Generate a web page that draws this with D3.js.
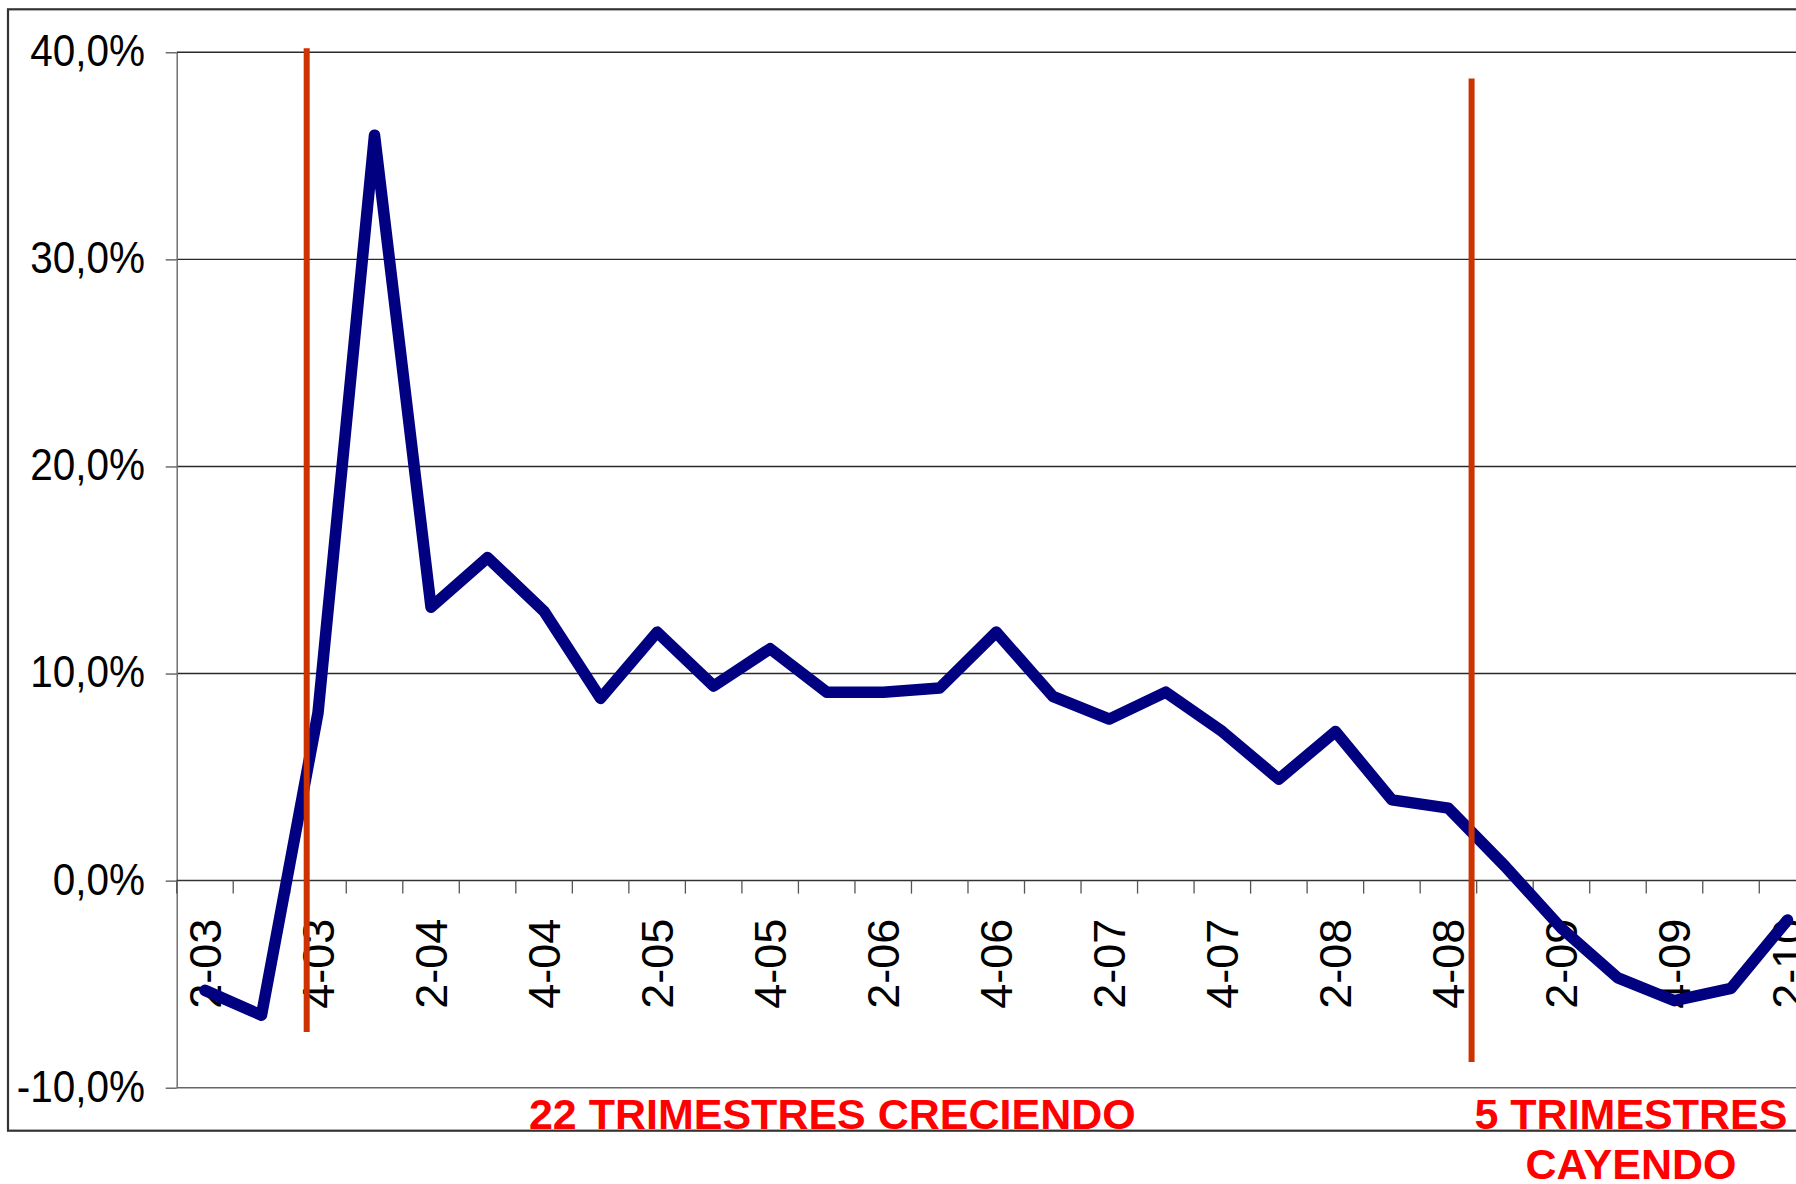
<!DOCTYPE html>
<html>
<head>
<meta charset="utf-8">
<script src="https://cdnjs.cloudflare.com/ajax/libs/d3/7.8.5/d3.min.js"></script>
<style>
  html, body { margin: 0; padding: 0; background: #ffffff; }
  svg { display: block; font-family: "Liberation Sans", Arial, Helvetica, sans-serif; }
</style>
</head>
<body>
<script>
// ---- DATA ----
const categories = [
  "2-03","3-03","4-03",
  "1-04","2-04","3-04","4-04",
  "1-05","2-05","3-05","4-05",
  "1-06","2-06","3-06","4-06",
  "1-07","2-07","3-07","4-07",
  "1-08","2-08","3-08","4-08",
  "1-09","2-09","3-09","4-09",
  "1-10","2-10"
];
const growth = [
  -5.3, -6.5, 8.1,
  36.0, 13.2, 15.6, 13.0,
  8.8, 12.0, 9.4, 11.2,
  9.1, 9.1, 9.3, 12.0,
  8.9, 7.8, 9.1, 7.2,
  4.9, 7.2, 3.9, 3.5,
  0.7, -2.3, -4.7, -5.8,
  -5.2, -1.9
];
const tickLabels = ["2-03","4-03","2-04","4-04","2-05","4-05","2-06","4-06","2-07","4-07","2-08","4-08","2-09","4-09","2-10"];
const yTicks = [-10, 0, 10, 20, 30, 40];
const gridValues = [10, 20, 30, 40];
// annotation lines: position in category units, vertical extent in value units
const markerPos = [2.30, 22.91];
const markerTop = [40.19, 38.74];
const markerBottom = [-7.31, -8.76];
const notes = ["22 TRIMESTRES CRECIENDO", "5 TRIMESTRES", "CAYENDO"];

// ---- CHART ----
const W = 1796, H = 1184;
const plotLeft = 176.7, plotRight = 1815.8, plotTop = 52.3, plotBottom = 1087.7;

const svg = d3.select("body").append("svg").attr("width", W).attr("height", H);

const x = d3.scaleBand().domain(categories).range([plotLeft, plotRight]).padding(0);
const y = d3.scaleLinear().domain([-10, 40]).range([plotBottom, plotTop]);
const xc = c => x(c) + x.bandwidth() / 2;
const xi = v => plotLeft + v * x.bandwidth();

// outer chart border (right side is cropped off the picture)
svg.append("rect")
  .attr("x", 8).attr("y", 9.3)
  .attr("width", 1830).attr("height", 1121.4)
  .attr("fill", "none").attr("stroke", "#333").attr("stroke-width", 2.2);

// gridlines
svg.append("g").selectAll("line").data(gridValues).join("line")
  .attr("x1", plotLeft).attr("x2", plotRight + 40)
  .attr("y1", d => y(d)).attr("y2", d => y(d))
  .attr("stroke", "#2a2a2a").attr("stroke-width", 1.4);

// bottom line of plot (-10)
svg.append("line")
  .attr("x1", plotLeft).attr("x2", plotRight + 40)
  .attr("y1", y(-10)).attr("y2", y(-10))
  .attr("stroke", "#666").attr("stroke-width", 1.5);

// y axis
const yAxis = svg.append("g")
  .attr("transform", `translate(${plotLeft},0)`)
  .call(d3.axisLeft(y).tickValues(yTicks).tickSize(11).tickSizeOuter(0)
    .tickFormat(d => d.toFixed(1).replace(".", ",") + "%"));
yAxis.select(".domain").attr("stroke", "#707070").attr("stroke-width", 1.5);
yAxis.selectAll(".tick line").attr("stroke", "#555").attr("stroke-width", 1.3);
yAxis.selectAll(".tick text")
  .attr("x", null).attr("dy", null)
  .attr("transform", "translate(-31.7,13.4) scale(0.9,1)")
  .attr("text-anchor", "end")
  .attr("fill", "#000")
  .style("font-size", "45px")
  .style("font-family", "'Liberation Sans', Arial, sans-serif");

// x axis (zero line) with category labels
const xAxis = svg.append("g")
  .attr("transform", `translate(0,${y(0)})`)
  .call(d3.axisBottom(x).tickSize(0).tickSizeOuter(0)
    .tickFormat(d => tickLabels.includes(d) ? d : ""));
xAxis.select(".domain").attr("stroke", "#333").attr("stroke-width", 1.5)
  .attr("d", `M${plotLeft},0H${plotRight + 40}`);
xAxis.selectAll(".tick text")
  .attr("x", null).attr("y", null).attr("dy", null)
  .attr("transform", "translate(16,38) rotate(-90)")
  .attr("text-anchor", "end")
  .attr("fill", "#000")
  .style("font-size", "45px")
  .style("font-family", "'Liberation Sans', Arial, sans-serif");

// category boundary ticks
svg.append("g").selectAll("line").data(d3.range(categories.length + 1)).join("line")
  .attr("x1", d => xi(d)).attr("x2", d => xi(d))
  .attr("y1", y(0)).attr("y2", y(0) + 13)
  .attr("stroke", "#555").attr("stroke-width", 1.3);

// series line
const line = d3.line()
  .x((d, i) => xc(categories[i]))
  .y(d => y(d));
svg.append("path")
  .datum(growth)
  .attr("d", line)
  .attr("fill", "none")
  .attr("stroke", "#000080")
  .attr("stroke-width", 11.5)
  .attr("stroke-linejoin", "round")
  .attr("stroke-linecap", "round");

// vertical marker lines
svg.append("g").selectAll("line").data(markerPos).join("line")
  .attr("x1", d => xi(d)).attr("x2", d => xi(d))
  .attr("y1", (d, i) => y(markerTop[i])).attr("y2", (d, i) => y(markerBottom[i]))
  .attr("stroke", "#CC3300").attr("stroke-width", 6);

// annotation texts
const noteStyle = sel => sel
  .attr("fill", "#FF0000")
  .attr("text-anchor", "middle")
  .style("font-size", "43px")
  .style("font-weight", "bold")
  .style("font-family", "'Liberation Sans', Arial, sans-serif");

svg.append("text").text(notes[0])
  .attr("x", xi(11.60)).attr("y", 1129).call(noteStyle);
svg.append("text").text(notes[1])
  .attr("x", xi(25.73)).attr("y", 1129).call(noteStyle);
svg.append("text").text(notes[2])
  .attr("x", xi(25.73)).attr("y", 1179).call(noteStyle);
</script>
</body>
</html>
